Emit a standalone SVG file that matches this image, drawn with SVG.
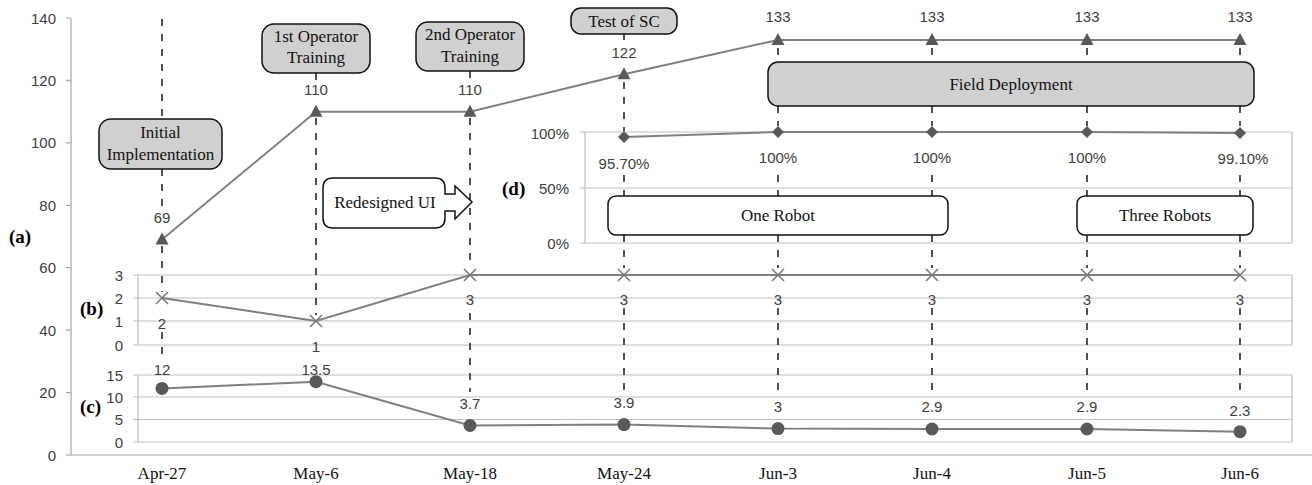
<svg xmlns="http://www.w3.org/2000/svg" width="1312" height="485" viewBox="0 0 1312 485">
<style>
.bg{fill:#ffffff}
.ax{stroke:#a6a6a6;stroke-width:1.2;fill:none}
.grid{stroke:#bfbfbf;stroke-width:1.2;fill:none}
.dash{stroke:#333333;stroke-width:1.7;stroke-dasharray:7,8;fill:none}
.ser{stroke:#808080;stroke-width:2;fill:none}
.mk{fill:#595959}
.xm{stroke:#7a7a7a;stroke-width:1.6;fill:none}
.num{font-family:"Liberation Sans",Arial,sans-serif;font-size:15px;fill:#404040;text-anchor:middle}
.tick{font-family:"Liberation Sans",Arial,sans-serif;font-size:15px;fill:#404040;text-anchor:end}
.lab{font-family:"Liberation Serif","Times New Roman",serif;font-size:17px;fill:#111111;text-anchor:middle}
.pan{font-family:"Liberation Serif","Times New Roman",serif;font-size:19px;font-weight:bold;fill:#000000}
.gbox{fill:#d0d0d0;stroke:#111111;stroke-width:1.5}
.wbox{fill:#ffffff;stroke:#111111;stroke-width:1.5}
</style>
<defs>
<path id="tri" d="M0,-7 L6.5,5 L-6.5,5 Z"/>
<path id="dia" d="M0,-6 L6,0 L0,6 L-6,0 Z"/>
<path id="xx" d="M-6,-6 L6,6 M-6,6 L6,-6"/>
</defs>
<rect class="bg" x="0" y="0" width="1312" height="485"/>

<g id="axes">
<line class="ax" x1="71" y1="18" x2="71" y2="455"/>
<line class="ax" x1="66" y1="455" x2="1312" y2="455"/>
<path class="ax" d="M66,18H71M66,80.4H71M66,142.9H71M66,205.3H71M66,267.7H71M66,330.1H71M66,392.6H71"/>
<text class="tick" x="56" y="23.5">140</text>
<text class="tick" x="56" y="86">120</text>
<text class="tick" x="56" y="148.4">100</text>
<text class="tick" x="56" y="210.8">80</text>
<text class="tick" x="56" y="273.2">60</text>
<text class="tick" x="56" y="335.6">40</text>
<text class="tick" x="56" y="398.1">20</text>
<text class="tick" x="56" y="460.5">0</text>
<text class="pan" x="9" y="243">(a)</text>
<text class="lab" x="162" y="479">Apr-27</text>
<text class="lab" x="316" y="479">May-6</text>
<text class="lab" x="470" y="479">May-18</text>
<text class="lab" x="624" y="479">May-24</text>
<text class="lab" x="778" y="479">Jun-3</text>
<text class="lab" x="932" y="479">Jun-4</text>
<text class="lab" x="1087" y="479">Jun-5</text>
<text class="lab" x="1240" y="479">Jun-6</text>
</g>

<g id="panel-b">
<path class="grid" d="M133,275H1292M133,298H1292M133,321H1292M133,345H1292"/>
<line class="grid" x1="138" y1="275" x2="138" y2="345"/>
<line class="grid" x1="1292" y1="275" x2="1292" y2="345"/>
<text class="tick" x="123" y="280.5">3</text>
<text class="tick" x="123" y="303.5">2</text>
<text class="tick" x="123" y="326.5">1</text>
<text class="tick" x="123" y="350.5">0</text>
<text class="pan" x="80" y="315">(b)</text>
</g>

<g id="panel-c">
<path class="grid" d="M133,375H1292M133,397H1292M133,419.5H1292M133,442H1292"/>
<line class="grid" x1="138" y1="375" x2="138" y2="442"/>
<line class="grid" x1="1292" y1="375" x2="1292" y2="442"/>
<text class="tick" x="123" y="380.5">15</text>
<text class="tick" x="123" y="402.5">10</text>
<text class="tick" x="123" y="425">5</text>
<text class="tick" x="123" y="447.5">0</text>
<text class="pan" x="80" y="413">(c)</text>
</g>

<g id="panel-d">
<path class="grid" d="M580,132H1292M580,188H1292M580,243H1292"/>
<line class="grid" x1="585" y1="132" x2="585" y2="243"/>
<line class="grid" x1="1292" y1="132" x2="1292" y2="243"/>
<text class="tick" x="569" y="138.5">100%</text>
<text class="tick" x="569" y="193.5">50%</text>
<text class="tick" x="569" y="248.5">0%</text>
<text class="pan" x="502" y="195">(d)</text>
</g>

<g id="connectors">
<path class="dash" d="M162,19V119M162,169V206M162,246V292M162,332V360"/>
<path class="dash" d="M316,73V80M316,118V315"/>
<path class="dash" d="M470,71V80M470,118V268M470,313V392"/>
<path class="dash" d="M624,34V40M624,82V131M624,175V196M624,235V268M624,308V390"/>
<path class="dash" d="M778,48V62M778,106V126M778,175V196M778,235V268M778,308V393"/>
<path class="dash" d="M932,48V62M932,106V126M932,175V196M932,235V268M932,308V393"/>
<path class="dash" d="M1087,48V62M1087,106V126M1087,175V196M1087,235V268M1087,308V393"/>
<path class="dash" d="M1240,48V62M1240,106V126M1240,175V196M1240,235V268M1240,308V396"/>
<polyline class="ser" points="162,239.6 316,111.7 470,111.7 624,74.2 778,39.9 932,39.9 1087,39.9 1240,39.9"/>
<polyline class="ser" points="162,298 316,321 470,275 624,275 778,275 932,275 1087,275 1240,275"/>
<polyline class="ser" points="162,388.4 316,381.7 470,425.5 624,424.6 778,428.6 932,429 1087,429 1240,431.7"/>
<polyline class="ser" points="624,137 778,132 932,132 1087,132 1240,133"/>
</g>

<g id="series-a">
<use href="#tri" class="mk" x="162" y="239.6"/>
<use href="#tri" class="mk" x="316" y="111.7"/>
<use href="#tri" class="mk" x="470" y="111.7"/>
<use href="#tri" class="mk" x="624" y="74.2"/>
<use href="#tri" class="mk" x="778" y="39.9"/>
<use href="#tri" class="mk" x="932" y="39.9"/>
<use href="#tri" class="mk" x="1087" y="39.9"/>
<use href="#tri" class="mk" x="1240" y="39.9"/>
<text class="num" x="162" y="222.5">69</text>
<text class="num" x="316" y="94.5">110</text>
<text class="num" x="470" y="94.5">110</text>
<text class="num" x="624" y="57.5">122</text>
<text class="num" x="778" y="21.5">133</text>
<text class="num" x="932" y="21.5">133</text>
<text class="num" x="1087" y="21.5">133</text>
<text class="num" x="1240" y="21.5">133</text>
</g>

<g id="series-b">
<use href="#xx" class="xm" x="162" y="298"/>
<use href="#xx" class="xm" x="316" y="321"/>
<use href="#xx" class="xm" x="470" y="275"/>
<use href="#xx" class="xm" x="624" y="275"/>
<use href="#xx" class="xm" x="778" y="275"/>
<use href="#xx" class="xm" x="932" y="275"/>
<use href="#xx" class="xm" x="1087" y="275"/>
<use href="#xx" class="xm" x="1240" y="275"/>
<text class="num" x="162" y="328.5">2</text>
<text class="num" x="316" y="351.5">1</text>
<text class="num" x="470" y="304.5">3</text>
<text class="num" x="624" y="304.5">3</text>
<text class="num" x="778" y="304.5">3</text>
<text class="num" x="932" y="304.5">3</text>
<text class="num" x="1087" y="304.5">3</text>
<text class="num" x="1240" y="304.5">3</text>
</g>

<g id="series-c">
<circle class="mk" cx="162" cy="388.4" r="6.5"/>
<circle class="mk" cx="316" cy="381.7" r="6.5"/>
<circle class="mk" cx="470" cy="425.5" r="6.5"/>
<circle class="mk" cx="624" cy="424.6" r="6.5"/>
<circle class="mk" cx="778" cy="428.6" r="6.5"/>
<circle class="mk" cx="932" cy="429" r="6.5"/>
<circle class="mk" cx="1087" cy="429" r="6.5"/>
<circle class="mk" cx="1240" cy="431.7" r="6.5"/>
<text class="num" x="162" y="374.5">12</text>
<text class="num" x="316" y="374.5">13.5</text>
<text class="num" x="470" y="408.5">3.7</text>
<text class="num" x="624" y="407.5">3.9</text>
<text class="num" x="778" y="411.5">3</text>
<text class="num" x="932" y="411.5">2.9</text>
<text class="num" x="1087" y="411.5">2.9</text>
<text class="num" x="1240" y="415.5">2.3</text>
</g>

<g id="series-d">
<use href="#dia" class="mk" x="624" y="137"/>
<use href="#dia" class="mk" x="778" y="132"/>
<use href="#dia" class="mk" x="932" y="132"/>
<use href="#dia" class="mk" x="1087" y="132"/>
<use href="#dia" class="mk" x="1240" y="133"/>
<text class="num" x="624" y="168.5">95.70%</text>
<text class="num" x="778" y="162.5">100%</text>
<text class="num" x="932" y="162.5">100%</text>
<text class="num" x="1087" y="162.5">100%</text>
<text class="num" x="1243" y="163.5">99.10%</text>
</g>

<g id="initial-implementation">
<rect class="gbox" x="99" y="119" width="123" height="50" rx="12"/>
<text class="lab" x="160.5" y="138">Initial</text>
<text class="lab" x="160.5" y="160">Implementation</text>
</g>
<g id="first-operator-training">
<rect class="gbox" x="262" y="24" width="108" height="49" rx="12"/>
<text class="lab" x="316" y="42">1st Operator</text>
<text class="lab" x="316" y="63">Training</text>
</g>
<g id="second-operator-training">
<rect class="gbox" x="416" y="22" width="108" height="49" rx="12"/>
<text class="lab" x="470" y="40">2nd Operator</text>
<text class="lab" x="470" y="62">Training</text>
</g>
<g id="test-of-sc">
<rect class="gbox" x="571" y="8" width="106" height="26" rx="10"/>
<text class="lab" x="624" y="27">Test of SC</text>
</g>
<g id="field-deployment">
<rect class="gbox" x="768" y="62" width="486" height="44" rx="10"/>
<text class="lab" x="1011" y="90">Field Deployment</text>
</g>
<g id="redesigned-ui">
<path class="wbox" d="M333,178 H435 Q445,178 445,188 V194 H455 V186 L472,202 L455,219 V211 H445 V218 Q445,228 435,228 H333 Q323,228 323,218 V188 Q323,178 333,178 Z"/>
<text class="lab" x="385" y="208">Redesigned UI</text>
</g>
<g id="one-robot">
<rect class="wbox" x="608" y="196" width="340" height="39" rx="8"/>
<text class="lab" x="778" y="221">One Robot</text>
</g>
<g id="three-robots">
<rect class="wbox" x="1077" y="196" width="176" height="39" rx="8"/>
<text class="lab" x="1165" y="221">Three Robots</text>
</g>
</svg>
